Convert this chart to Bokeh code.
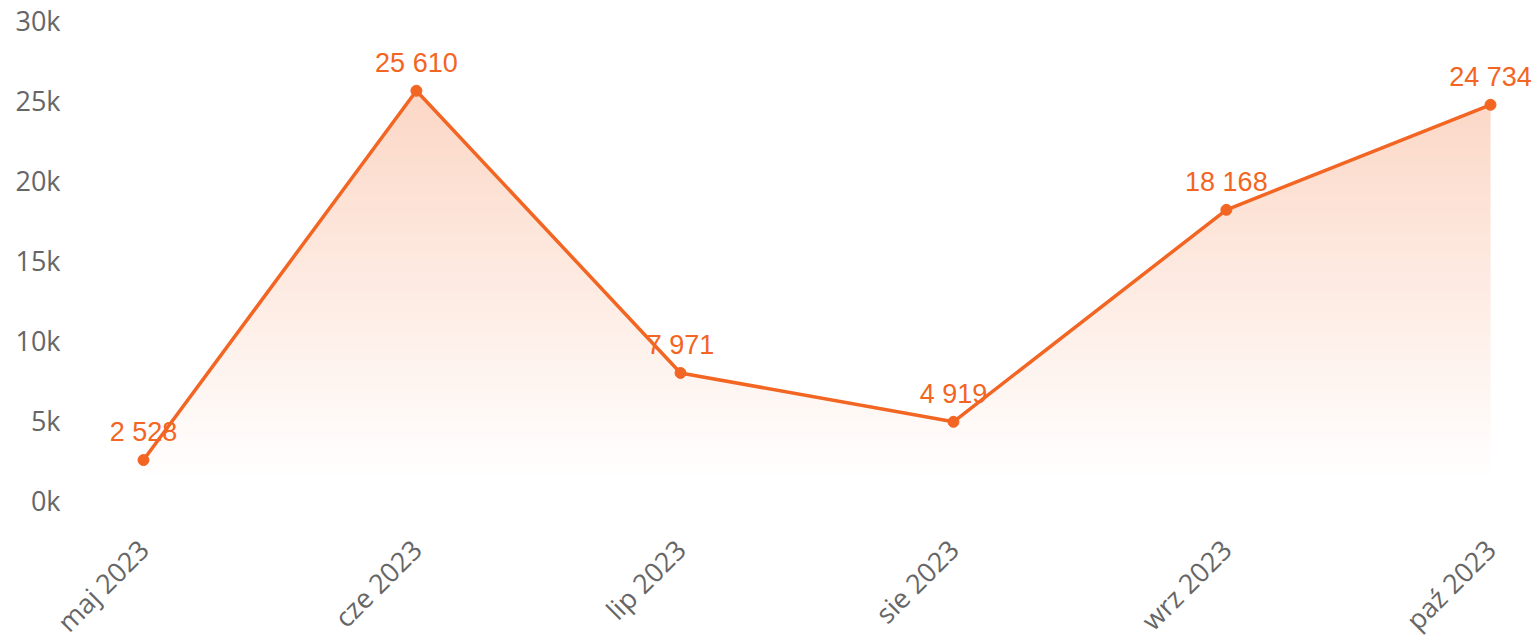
import math
import pandas as pd
from bokeh.plotting import figure
from bokeh.models import ColumnDataSource, Range1d, FixedTicker, LabelSet
from bokeh.core.properties import value
from bokeh.embed import file_html
from bokeh.resources import INLINE

# ---- data ----
months = ["2023-05-01", "2023-06-01", "2023-07-01", "2023-08-01", "2023-09-01", "2023-10-01"]
month_labels = ["maj 2023", "cze 2023", "lip 2023", "sie 2023", "wrz 2023", "paź 2023"]
values = [2528, 25610, 7971, 4919, 18168, 24734]
y_ticks = [0, 5000, 10000, 15000, 20000, 25000, 30000]
y_tick_labels = ["0k", "5k", "10k", "15k", "20k", "25k", "30k"]

ORANGE = "#f26522"
GRAY = "#666666"

dates = pd.to_datetime(months)
ms = [d.value / 1e6 for d in dates]
day = pd.Timedelta(days=1)

FRAME_W = 1456
FRAME_H = 480
pad_left_days = 7.38
pad_right_days = 5.0

p = figure(frame_width=FRAME_W, frame_height=FRAME_H, x_axis_type="datetime",
           output_backend="svg", toolbar_location=None,
           min_border_left=78, min_border_right=0,
           min_border_top=20, min_border_bottom=135)
p.x_range = Range1d(start=dates[0] - pad_left_days * day, end=dates[-1] + pad_right_days * day)
p.y_range = Range1d(start=0, end=30000)
p.outline_line_color = None
p.grid.visible = False
p.background_fill_color = "white"
p.border_fill_color = "white"

# ---- gradient area (bands + white mask above the line) ----
base = 1250
top_v = max(values)
n = 120
h = (top_v - base) / n
left, right, bottoms, tops, colors = [], [], [], [], []
for i in range(n):
    b = base + i * h
    frac = (b + h / 2 - base) / (top_v - base)
    a = 0.26 * frac
    r = int(round(255 * (1 - a) + 0xf2 * a))
    g = int(round(255 * (1 - a) + 0x65 * a))
    bl = int(round(255 * (1 - a) + 0x22 * a))
    left.append(dates[0]); right.append(dates[-1])
    bottoms.append(b); tops.append(b + h * 1.3)
    colors.append("#%02x%02x%02x" % (r, g, bl))
band_src = ColumnDataSource(dict(left=left, right=right, bottom=bottoms, top=tops, color=colors))
p.quad(left="left", right="right", bottom="bottom", top="top", fill_color="color",
       line_color=None, source=band_src)

# white mask above the line (extended sideways so its edges don't show)
mask_x = [dates[0] - 3 * day] + list(dates) + [dates[-1] + 3 * day]
mask_y = [values[0]] + values + [values[-1]]
p.varea(x=mask_x, y1=mask_y, y2=[31000] * len(mask_x), fill_color="white")

src = ColumnDataSource(dict(x=dates, y=values,
                            label=[f"{v:,}".replace(",", " ") for v in values]))
p.line(x="x", y="y", line_color=ORANGE, line_width=3.5, source=src)
p.scatter(x="x", y="y", size=11, fill_color=ORANGE, line_color=ORANGE, source=src)

labels = LabelSet(x="x", y="y", text="label", source=src, y_offset=28,
                  text_align="center", text_baseline="middle",
                  text_font=value("Liberation Sans"), text_font_size=value("27px"),
                  text_color=ORANGE)
p.add_layout(labels)

# ---- axes ----
xa = p.xaxis[0]
xa.ticker = FixedTicker(ticks=ms)
xa.major_label_overrides = {m: lab for m, lab in zip(ms, month_labels)}
xa.major_label_orientation = math.pi / 4
xa.axis_line_color = None
xa.major_tick_line_color = None
xa.minor_tick_line_color = None
xa.major_tick_out = 0
xa.major_tick_in = 0
xa.major_label_standoff = 44
xa.major_label_text_font = "Open Sans"
xa.major_label_text_font_size = "27px"
xa.major_label_text_color = GRAY

ya = p.yaxis[0]
ya.ticker = FixedTicker(ticks=y_ticks)
ya.major_label_overrides = {t: lab for t, lab in zip(y_ticks, y_tick_labels)}
ya.axis_line_color = None
ya.major_tick_line_color = None
ya.minor_tick_line_color = None
ya.major_tick_out = 0
ya.major_tick_in = 0
ya.major_label_standoff = 18
ya.major_label_text_font = "Open Sans"
ya.major_label_text_font_size = "27px"
ya.major_label_text_color = GRAY

open("out.html", "w").write(file_html(p, INLINE))
